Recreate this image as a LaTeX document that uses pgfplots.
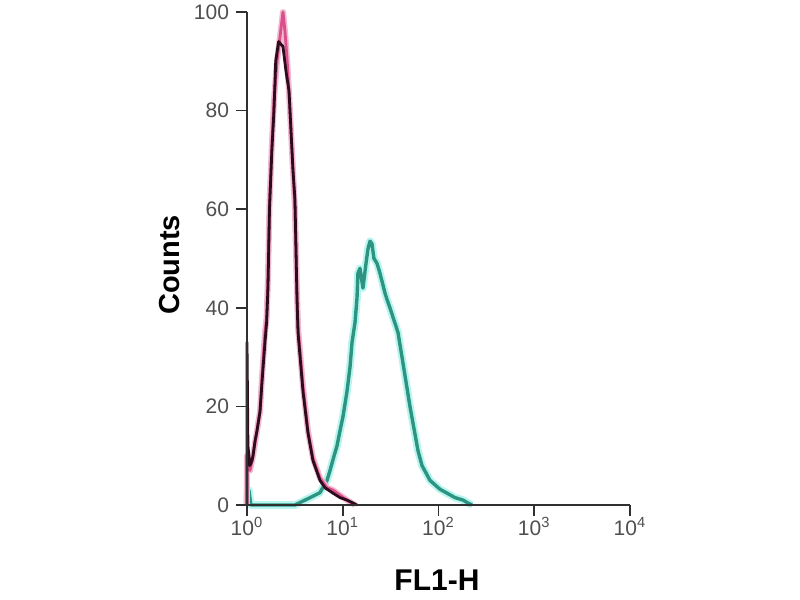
\documentclass[border=0pt]{standalone}
\usepackage{pgfplots}
\pgfplotsset{compat=1.18}
\usepackage{pgfplotstable}
\usepackage{fontspec}
\setmainfont{Liberation Sans}
\definecolor{pinkc}{HTML}{D9508A}
\definecolor{blackc}{HTML}{2E0C1E}
\definecolor{tealc}{HTML}{2E9482}
\definecolor{glowc}{HTML}{B8F4F0}
\definecolor{axc}{HTML}{303030}

\pgfplotstableread{
lx y
0.000 0
0.000 33
0.010 12
0.031 8
0.052 9
0.063 10
0.084 13
0.104 15
0.136 19
0.157 25
0.188 33
0.205 37
0.219 44
0.235 60
0.260 72
0.282 80
0.300 90
0.330 94
0.376 93
0.407 88
0.439 84
0.449 80
0.480 68
0.501 62
0.522 42
0.533 35
0.585 23
0.637 14.6
0.689 9
0.762 5
0.815 3.5
0.898 2.4
0.971 1.5
1.044 1
1.097 0.5
1.149 0
}\blackdata

\pgfplotstableread{
lx y
0.000 0
0.000 10
0.010 8
0.031 7
0.063 10
0.104 15
0.136 19
0.157 26
0.188 35
0.205 38
0.219 46
0.235 61
0.260 73
0.282 82
0.313 90
0.345 95
0.376 100
0.397 96
0.420 90
0.449 80
0.480 68
0.501 60
0.522 43
0.533 36
0.585 24
0.637 15
0.689 9.5
0.762 5.5
0.836 3.5
0.900 3
0.971 2
1.044 1
1.128 0
}\pinkdata

\pgfplotstableread{
lx y
0.000 0
0.005 3
0.020 3
0.040 0
0.501 0
0.554 0.5
0.660 1.5
0.762 2.5
0.836 5
0.867 7
0.910 10
0.940 12
0.971 15
1.003 18
1.044 23
1.076 28
1.097 33
1.128 37
1.149 42
1.159 47
1.180 48
1.211 44
1.243 49
1.264 52
1.285 53.5
1.305 53
1.326 50
1.358 49
1.389 47
1.441 43
1.462 41.7
1.493 40
1.577 35
1.619 30
1.702 20
1.786 11
1.828 8
1.911 5
2.015 3.2
2.089 2.4
2.172 1.5
2.256 1
2.308 0.4
2.350 0
}\tealdata

\begin{document}
\begin{tikzpicture}
\path[use as bounding box] (-123.5pt,-47.5pt) rectangle (276.5pt,252.5pt);
\begin{axis}[
  at={(0,0)}, anchor=south west,
  scale only axis, width=191.5pt, height=246.5pt,
  xmode=log, xmin=1, xmax=10000, ymin=0, ymax=100,
  axis lines=left, axis line style={-, axc, line width=0.9pt},
  axis on top,
  tick align=outside, major tick length=5.5pt,
  tick style={axc, line width=0.8pt},
  minor tick num=0, xminorticks=false,
  xtick={1,10,100,1000,10000},
  xticklabels={10\textsuperscript{0},10\textsuperscript{1},10\textsuperscript{2},10\textsuperscript{3},10\textsuperscript{4}},
  ytick={0,20,40,60,80,100},
  yticklabels={0,20,40,60,80,100},
  ticklabel style={font=\fontsize{10.5}{12}\selectfont, text=axc!85},
  x tick label style={yshift=3pt},
  xlabel={\textbf{FL1-H}},
  ylabel={\textbf{Counts}},
  xlabel style={font=\fontsize{15}{17}\selectfont, at={(axis description cs:0.496,-0.152)}, anchor=center},
  ylabel style={font=\fontsize{14.5}{16}\selectfont, at={(axis description cs:-0.201,0.487)}, anchor=center, rotate=0},
  clip=false,
]
\addplot[glowc, line width=3.8pt, line join=round] table[x expr=10^\thisrow{lx}, y=y] {\tealdata};
\addplot[tealc, line width=1.7pt, line join=round] table[x expr=10^\thisrow{lx}, y=y] {\tealdata};
\addplot[pinkc!40, line width=3pt, line join=round] table[x expr=10^\thisrow{lx}, y=y] {\pinkdata};
\addplot[pinkc, line width=1.4pt, line join=round] table[x expr=10^\thisrow{lx}, y=y] {\pinkdata};
\addplot[blackc, line width=1.4pt, line join=round] table[x expr=10^\thisrow{lx}, y=y] {\blackdata};
\end{axis}
\end{tikzpicture}
\end{document}
